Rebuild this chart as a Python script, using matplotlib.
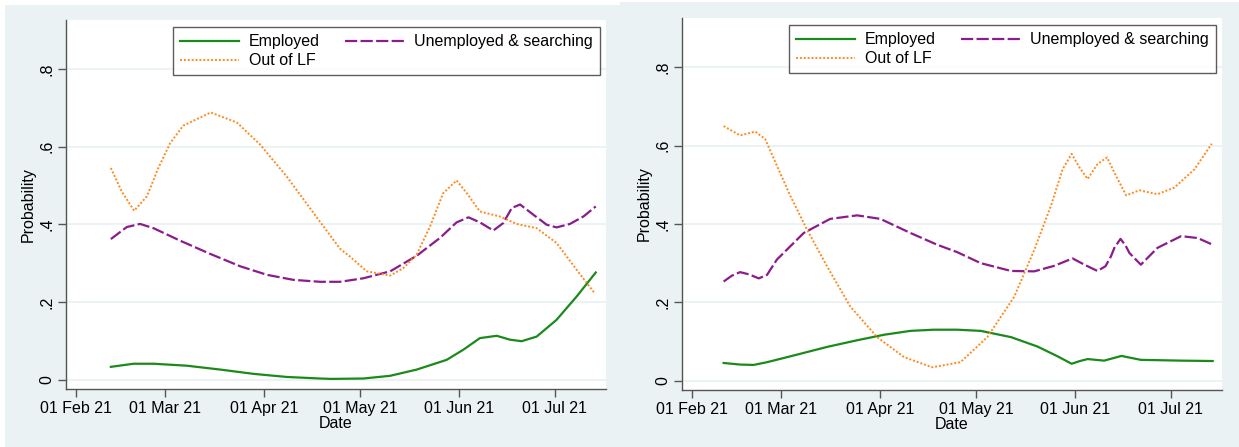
import numpy as np
import matplotlib
matplotlib.use("Agg")
import matplotlib.pyplot as plt
from matplotlib.patches import Rectangle

plt.rcParams['font.family'] = ['Liberation Sans', 'DejaVu Sans']

start = np.datetime64('2021-02-01T00')

# days since 01 Feb 21, probabilities -- panel 1
emp1_day = [10.9, 18.0, 24.3, 34.7, 45.2, 55.6, 66.0, 76.5, 80.0, 90.0, 98.4, 106.7,
            116.1, 121.3, 126.5, 131.8, 135.9, 139.6, 144.3, 150.5, 156.8, 162.8]
emp1 = [0.033, 0.041, 0.041, 0.036, 0.026, 0.015, 0.007, 0.003, 0.002, 0.003, 0.010, 0.026,
        0.051, 0.077, 0.107, 0.113, 0.103, 0.099, 0.111, 0.154, 0.214, 0.276]
une1_day = [10.9, 15.9, 20.1, 24.3, 32.6, 42.0, 51.4, 59.8, 68.1, 76.5, 82.7, 90.0, 98.4,
            106.7, 114.0, 119.2, 122.9, 126.5, 130.7, 133.8, 136.5, 139.1, 143.2, 147.4,
            150.5, 154.7, 158.9, 162.8]
une1 = [0.362, 0.393, 0.401, 0.390, 0.358, 0.324, 0.292, 0.270, 0.257, 0.252, 0.252, 0.261,
        0.279, 0.319, 0.365, 0.405, 0.418, 0.405, 0.384, 0.403, 0.442, 0.451, 0.425, 0.399,
        0.392, 0.401, 0.420, 0.446]
out1_day = [10.9, 14.3, 18.2, 22.2, 25.8, 29.5, 33.6, 42.2, 50.4, 57.7, 66.0, 74.4, 82.7,
            85.8, 91.1, 98.4, 102.5, 106.7, 110.9, 115.0, 119.2, 122.4, 126.5, 132.8, 138.0,
            144.3, 150.5, 156.8, 162.6]
out1 = [0.545, 0.485, 0.435, 0.472, 0.545, 0.609, 0.654, 0.688, 0.662, 0.605, 0.523, 0.429,
        0.337, 0.317, 0.279, 0.268, 0.287, 0.322, 0.395, 0.480, 0.513, 0.480, 0.433, 0.420,
        0.401, 0.390, 0.352, 0.283, 0.221]

# panel 2
emp2_day = [9.9, 15.0, 19.3, 23.5, 31.8, 42.3, 51.7, 60.1, 68.4, 75.8, 83.1, 90.4, 99.9,
            108.2, 114.5, 118.9, 121.5, 123.9, 129.1, 134.5, 140.6, 153.2, 163.1]
emp2 = [0.045, 0.041, 0.040, 0.047, 0.064, 0.086, 0.103, 0.117, 0.127, 0.130, 0.130, 0.127,
        0.111, 0.087, 0.062, 0.043, 0.050, 0.055, 0.051, 0.063, 0.053, 0.051, 0.050]
une2_day = [9.9, 12.5, 15.1, 18.0, 20.9, 23.5, 26.6, 30.8, 35.0, 43.3, 51.7, 59.0, 68.4,
            76.8, 83.1, 90.4, 99.9, 107.2, 113.4, 119.2, 122.9, 127.0, 129.5, 131.2, 132.3,
            134.2, 135.8, 137.0, 140.6, 145.8, 153.2, 158.4, 163.1]
une2 = [0.253, 0.268, 0.277, 0.271, 0.261, 0.270, 0.309, 0.343, 0.377, 0.413, 0.422, 0.413,
        0.377, 0.347, 0.328, 0.300, 0.280, 0.279, 0.293, 0.312, 0.296, 0.280, 0.292, 0.317,
        0.339, 0.362, 0.345, 0.326, 0.296, 0.339, 0.369, 0.364, 0.347]
out2_day = [9.9, 15.1, 19.8, 22.9, 26.6, 30.8, 36.0, 42.3, 49.6, 58.0, 66.4, 75.2, 80.0,
            84.1, 92.5, 100.9, 107.2, 112.4, 116.1, 118.9, 121.3, 123.9, 127.0, 130.0, 132.8,
            136.0, 140.1, 145.8, 151.1, 157.4, 162.8]
out2 = [0.650, 0.626, 0.636, 0.617, 0.549, 0.472, 0.386, 0.292, 0.189, 0.111, 0.060, 0.034,
        0.041, 0.047, 0.111, 0.214, 0.334, 0.446, 0.540, 0.579, 0.545, 0.515, 0.553, 0.570,
        0.523, 0.473, 0.486, 0.476, 0.493, 0.540, 0.605]

tick_dates = ['2021-02-01', '2021-03-01', '2021-04-01', '2021-05-01', '2021-06-01', '2021-07-01']
tick_labels = ['01 Feb 21', '01 Mar 21', '01 Apr 21', '01 May 21', '01 Jun 21', '01 Jul 21']
y_ticks = [0, 0.2, 0.4, 0.6, 0.8]
y_labels = ['0', '.2', '.4', '.6', '.8']

panels = [
    (emp1_day, emp1, une1_day, une1, out1_day, out1),
    (emp2_day, emp2, une2_day, une2, out2_day, out2),
]

W, H = 1239, 447
bg = '#EAF2F3'
fs = 11.5


def to_dates(days):
    return start + (np.array(days) * 24).round().astype('timedelta64[h]')


fig = plt.figure(figsize=(W / 100, H / 100), dpi=100, facecolor='white')

# graph regions (Stata style background)
fig.add_artist(Rectangle((5 / W, 0), 615 / W, 442 / H, transform=fig.transFigure,
                         facecolor=bg, edgecolor='none', zorder=0))
fig.add_artist(Rectangle((620 / W, 0), 619 / W, 445 / H, transform=fig.transFigure,
                         facecolor=bg, edgecolor='none', zorder=0))

boxes = [(66, 20, 540, 369), (682, 18, 540, 372)]

for (x0, top, w, h), (ed, ev, ud, uv, od, ov) in zip(boxes, panels):
    ax = fig.add_axes([x0 / W, (H - top - h) / H, w / W, h / H])
    ax.set_facecolor('white')

    l_emp, = ax.plot(to_dates(ed), ev, color='#1a8a1a', lw=1.6, label='Employed')
    l_une, = ax.plot(to_dates(ud), uv, color='#8B1C8B', lw=1.6, dashes=(5.5, 1.5),
                     label='Unemployed & searching')
    l_out, = ax.plot(to_dates(od), ov, color='#FF8A1E', lw=1.4, dashes=(1, 1.0),
                     label='Out of LF')

    ax.set_xlim(start - np.timedelta64(75, 'h'), start + np.timedelta64(166 * 24, 'h'))
    ax.set_ylim(-0.024, 0.926)

    ax.set_xticks([np.datetime64(d) for d in tick_dates])
    ax.set_xticklabels(tick_labels, fontsize=fs)
    ax.set_yticks(y_ticks)
    ax.set_yticklabels(y_labels, fontsize=fs, rotation=90, va='center')
    ax.tick_params(axis='both', length=5.8, width=1, color='#555555', pad=2.5)

    ax.grid(axis='y', color=bg, lw=1.3)
    ax.set_axisbelow(True)
    for s in ['top', 'right']:
        ax.spines[s].set_visible(False)
    for s in ['left', 'bottom']:
        ax.spines[s].set_color('#555555')
        ax.spines[s].set_linewidth(1)

    ax.set_xlabel('Date', fontsize=fs, labelpad=0)
    ax.set_ylabel('Probability', fontsize=fs, labelpad=3)

    # legend fills column-wise, so order handles to read row by row
    leg = ax.legend([l_emp, l_out, l_une],
                    ['Employed', 'Out of LF', 'Unemployed & searching'],
                    loc='upper right', bbox_to_anchor=(0.989, 0.981), ncol=2,
                    fontsize=fs, frameon=True, fancybox=False, handlelength=3.7,
                    handletextpad=0.6, columnspacing=1.6, labelspacing=0.25,
                    borderpad=0.45, borderaxespad=0)
    leg.get_frame().set_edgecolor('#333333')
    leg.get_frame().set_linewidth(1)

fig.savefig('out.png', dpi=100, facecolor='white')
